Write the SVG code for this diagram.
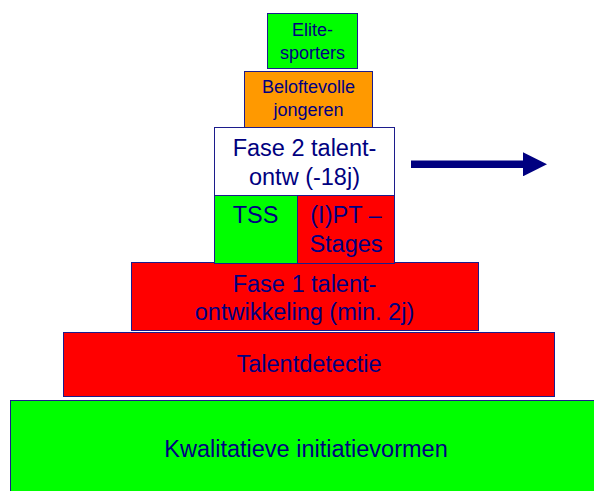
<svg xmlns="http://www.w3.org/2000/svg" width="594" height="491" viewBox="0 0 594 491">
<style>
.box{stroke:#1c1c8c;stroke-width:1}
.g{fill:#00ff00}.o{fill:#ff9900}.r{fill:#ff0000}.w{fill:#ffffff}
text{font-family:"Liberation Sans",Arial,sans-serif;fill:#000080;text-anchor:middle}
.L{font-size:23.5px}.S{font-size:18px}
</style>
<defs>
<marker id="ah" markerUnits="userSpaceOnUse" markerWidth="24" markerHeight="24" viewBox="0 0 24 24" refX="0" refY="12" orient="auto">
<path d="M0,0 L24,12 L0,24 Z" fill="#000080"/>
</marker>
</defs>
<rect width="594" height="491" fill="#ffffff"/>
<g id="kwalitatieve">
<rect class="box g" x="10.5" y="400.5" width="595" height="95"/>
<text class="L" x="306" y="456.5">Kwalitatieve initiatievormen</text>
</g>
<g id="talentdetectie">
<rect class="box r" x="63.5" y="332.5" width="491" height="64"/>
<text class="L" x="309" y="372">Talentdetectie</text>
</g>
<g id="fase1">
<rect class="box r" x="131.5" y="262.5" width="347" height="68"/>
<text class="L" x="304.5" y="291.5">Fase 1 talent-</text>
<text class="L" x="304.5" y="319.5">ontwikkeling (min. 2j)</text>
</g>
<g id="tss">
<rect class="box g" x="214.5" y="195.5" width="83" height="68"/>
<text class="L" x="255.5" y="223">TSS</text>
</g>
<g id="ipt">
<rect class="box r" x="297.5" y="195.5" width="97" height="68"/>
<text class="L" x="346" y="223">(I)PT –</text>
<text class="L" x="346" y="252">Stages</text>
</g>
<g id="fase2">
<rect class="box w" x="214.5" y="127.5" width="180" height="68"/>
<text class="L" x="304.5" y="156">Fase 2 talent-</text>
<text class="L" x="304.5" y="184.5">ontw (-18j)</text>
</g>
<g id="beloftevolle">
<rect class="box o" x="244.5" y="71.5" width="128" height="56"/>
<text class="S" x="308.5" y="93">Beloftevolle</text>
<text class="S" x="308.5" y="116">jongeren</text>
</g>
<g id="elite">
<rect class="box g" x="267.5" y="13.5" width="90" height="55"/>
<text class="S" x="312.5" y="36">Elite-</text>
<text class="S" x="312.5" y="58.5">sporters</text>
</g>
<g id="connectors">
<line x1="411" y1="164.3" x2="523" y2="164.3" stroke="#000080" stroke-width="7.6" marker-end="url(#ah)"/>
</g>
</svg>
